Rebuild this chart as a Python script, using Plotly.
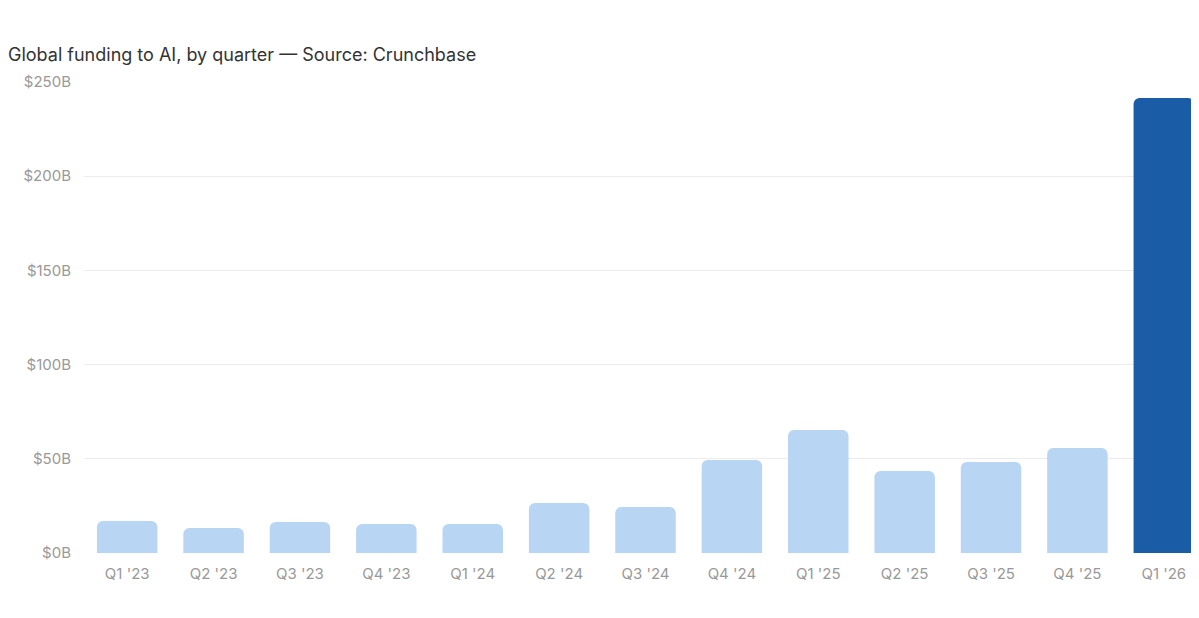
import plotly.graph_objects as go

quarters = ["Q1 '23","Q2 '23","Q3 '23","Q4 '23","Q1 '24","Q2 '24","Q3 '24","Q4 '24","Q1 '25","Q2 '25","Q3 '25","Q4 '25","Q1 '26"]
funding = [17, 13.3, 16.5, 15.4, 15.4, 26.5, 24.4, 49.4, 65.3, 43.5, 48.3, 55.7, 241.5]
colors = ["#b8d5f3"]*12 + ["#1a5ca6"]

fig = go.Figure(go.Bar(x=quarters, y=funding, marker=dict(color=colors, line_width=0),
                       hovertemplate="%{x}: $%{y}B<extra></extra>"))
fig.update_layout(
    width=1199, height=618, paper_bgcolor="white", plot_bgcolor="white",
    margin=dict(l=76, r=0, t=74, b=73), bargap=0.3, barcornerradius=6,
    font=dict(family="Inter, Roboto, sans-serif", color="#999", size=15),
    title=dict(text="Global funding to AI, by quarter — Source: Crunchbase", x=0, xref="paper", xanchor="left",
               y=0.935, yref="container", font=dict(size=18, color="#333"), pad=dict(l=0)),
    showlegend=False,
)
fig.update_layout(title_x=0, title_xref="container")
fig.update_yaxes(range=[0, 250], tickvals=[0,50,100,150,200,250],
                 ticktext=["$0B","$50B","$100B","$150B","$200B","$250B"],
                 gridcolor="#ececec", zeroline=False, ticklabelstandoff=12)
fig.update_xaxes(showgrid=False, ticklabelstandoff=10)
fig.write_html("out.html")
